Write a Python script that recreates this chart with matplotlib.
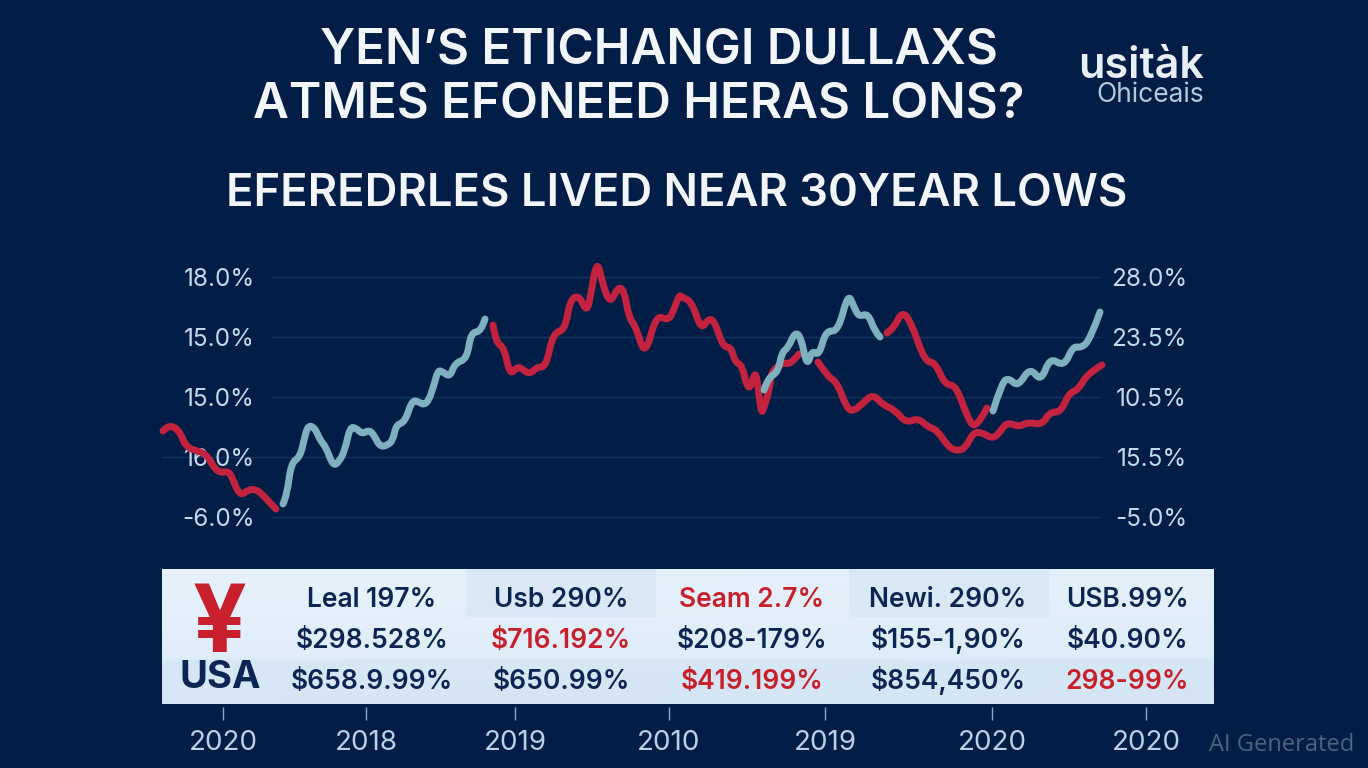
import matplotlib
matplotlib.use("Agg")
import matplotlib.pyplot as plt
from matplotlib.patches import Rectangle, PathPatch
from matplotlib.path import Path
import numpy as np

BG = "#021e46"
plt.rcParams['font.family'] = ['Inter', 'DejaVu Sans']

# Curves: x = horizontal position on the time scale, y = height on the index scale
red_a_x = [163,167,172,178,182,186,193,202,209,214,221,229,233,240,248,255,262,269,276]
red_a_y = [86,90,91,87,80,71,67,65,59,49,44,46,37,21,27,28,23,15,8]
blue_a_x = [283,287,291,300,304,308,315,320,326,333,339,345,350,356,362,369,374,380,388,393,396,405,412,419,424,429,434,438,443,450,455,467,471,481,485]
blue_a_y = [13,22,54,60,77,92,89,77,70,51,55,67,90,89,83,87,82,70,72,77,92,95,117,115,112,117,132,147,145,140,154,158,185,185,198]
red_b_x = [493,496,504,510,518,529,537,546,553,565,570,579,587,591,597,603,610,618,624,629,636,645,656,667,672,679,682,692,701,709,715,723,731,735,742,747,751,756,761,764,770,771,783,790,799]
red_b_y = [192,174,170,141,152,142,150,150,184,187,217,222,204,224,258,232,213,230,227,199,190,160,202,197,202,222,220,215,187,199,195,170,170,155,152,130,130,149,103,109,130,145,155,152,163]
red_c_x = [818,828,837,847,854,863,873,883,895,906,918,928,937,949,959,966,973,981,993,1000,1007,1019,1028,1042,1050,1061,1069,1078,1088,1102]
red_c_y = [155,140,135,108,106,114,123,112,107,94,99,90,87,69,66,70,84,85,78,85,95,90,95,92,105,105,124,127,144,152]
blue_b_x = [764,768,778,782,788,795,801,807,812,819,826,838,848,854,859,868,875,880]
blue_b_y = [127,139,145,165,169,185,180,150,167,161,187,185,224,210,200,204,185,180]
red_d_x = [887,894,902,911,925,935,945,956,968,976,987]
red_d_y = [184,189,206,195,155,155,132,132,98,88,109]
blue_c_x = [993,1002,1009,1018,1030,1041,1050,1064,1073,1081,1090,1100]
blue_c_y = [106,135,139,130,150,135,160,150,171,169,177,205]

y_ticks = [0, 60, 120, 180, 240]
left_labels = ["-6.0%", "16.0%", "15.0%", "15.0%", "18.0%"]
right_labels = ["-5.0%", "15.5%", "10.5%", "23.5%", "28.0%"]
x_ticks = [223, 366, 515, 669, 825, 992, 1146]
x_labels = ["2020", "2018", "2019", "2010", "2019", "2020", "2020"]

row_1 = ["Leal 197%", "Usb 290%", "Seam 2.7%", "Newi. 290%", "USB.99%"]
row_2 = ["$298.528%", "$716.192%", "$208-179%", "$155-1,90%", "$40.90%"]
row_3 = ["$658.9.99%", "$650.99%", "$419.199%", "$854,450%", "298-99%"]
red_cells = {(0, 2), (1, 1), (2, 2), (2, 4)}

W, H = 1368, 768
fig = plt.figure(figsize=(13.68, 7.68), dpi=100, facecolor=BG)

# chart axes
L, R, T, B = 162, 1214, 255, 707
ax = fig.add_axes([L / W, 1 - B / H, (R - L) / W, (B - T) / H])
ax.set_facecolor("none")
for s in ax.spines.values():
    s.set_visible(False)
ax.set_axisbelow(True)
ax.set_yticks(y_ticks, left_labels)
ax.tick_params(axis='y', length=0, pad=-66.8, labelsize=17.5, labelcolor="#c5d7ea")
ax.set_xticks(x_ticks, x_labels)
ax.tick_params(axis='x', length=9.5, width=1, color="#8fa3c2", pad=7, labelsize=20, labelcolor="#bccfe6")
GRID = "#143360"
ax.hlines(y_ticks, 272, 1100, color=GRID, lw=1, zorder=0.5)
ax.hlines(60, 162, 272, color=GRID, lw=1, zorder=0.5)

axr = ax.twinx()
axr.set_facecolor("none")
for s in axr.spines.values():
    s.set_visible(False)
axr.set_yticks(y_ticks, right_labels)
axr.tick_params(axis='y', length=0, pad=-19.4, labelsize=17.5, labelcolor="#c5d7ea")
for t in axr.get_yticklabels():
    t.set_ha('right')

RED = "#c4233f"
BLUE = "#7fb0c0"


def curve(a, xs, ys, color):
    """Round the joints of a series with quadratic segments through its midpoints."""
    p = np.column_stack([xs, ys]).astype(float)
    verts = [p[0]]
    codes = [Path.MOVETO]
    for i in range(1, len(p) - 1):
        mid = (p[i] + p[i + 1]) / 2 if i < len(p) - 2 else p[i + 1]
        verts += [p[i], mid]
        codes += [Path.CURVE3, Path.CURVE3]
    a.add_patch(PathPatch(Path(verts, codes), fc='none', ec=color, lw=5.0,
                          capstyle='round', joinstyle='round', clip_on=False, zorder=3))


for xs, ys, c in [(red_a_x, red_a_y, RED), (blue_a_x, blue_a_y, BLUE),
                  (red_b_x, red_b_y, RED), (red_c_x, red_c_y, RED),
                  (red_d_x, red_d_y, RED), (blue_b_x, blue_b_y, BLUE),
                  (blue_c_x, blue_c_y, BLUE)]:
    curve(axr, xs, ys, c)

for a in (ax, axr):
    a.set_xlim(L, R)
    a.set_ylim(517 - B, 517 - T)

# overlay for table and titles
ov = fig.add_axes([0, 0, 1, 1], facecolor="none")
ov.axis('off')
grad = np.array([[[0.90, 0.945, 0.985], [0.89, 0.94, 0.98]],
                 [[0.87, 0.925, 0.975], [0.86, 0.92, 0.97]]])
ov.imshow(grad, extent=[162, 1214, 704, 569], interpolation='bicubic', aspect='auto', zorder=1)
ov.set_xlim(0, W)
ov.set_ylim(H, 0)
for x0, y0, w, h in [(466, 569, 190, 48), (849, 569, 200, 48), (162, 659, 1052, 45)]:
    ov.add_patch(Rectangle((x0, y0), w, h, fc="#bcd3e8", alpha=0.22, ec="none", zorder=1.1))

NAVY = "#0d2552"
CRED = "#c8202a"
col_x = [372, 561, 752, 948, 1127]
row_y = [607, 648, 689]
for r, row in enumerate([row_1, row_2, row_3]):
    for c, txt in enumerate(row):
        ov.text(col_x[c], row_y[r], txt, ha='center', va='baseline', fontsize=19,
                fontweight='semibold',
                color=CRED if (r, c) in red_cells else NAVY, zorder=2)
ov.text(220, 652, "¥", ha='center', va='baseline', fontsize=68, fontweight='bold', color="#c9202e", zorder=2)
ov.text(220, 688, "USA", ha='center', va='baseline', fontsize=27.5, fontweight='bold', color=NAVY, zorder=2)

WHITE = "#f2f6fb"
ov.text(659, 63, "YEN’S ETICHANGI DULLAXS", ha='center', va='baseline', fontsize=35.5, fontweight='semibold', color=WHITE)
ov.text(639, 117, "ATMES EFONEED HERAS LONS?", ha='center', va='baseline', fontsize=35.5, fontweight='semibold', color=WHITE)
ov.text(677, 205, "EFEREDRLES LIVED NEAR 30YEAR LOWS", ha='center', va='baseline', fontsize=32.6, fontweight='semibold', color=WHITE)
ov.text(1141, 78, "usitàk", ha='center', va='baseline', fontsize=31, fontweight='semibold', color="#e8eef6")
ov.text(1150, 102, "Ohiceais", ha='center', va='baseline', fontsize=19, color="#b8c8dc")
ov.text(1282, 745, "AI Generated", ha='center', va='center', fontsize=17, color="#4f627e", family=['Open Sans', 'DejaVu Sans'])

fig.savefig("out.png", dpi=100, facecolor=BG)
